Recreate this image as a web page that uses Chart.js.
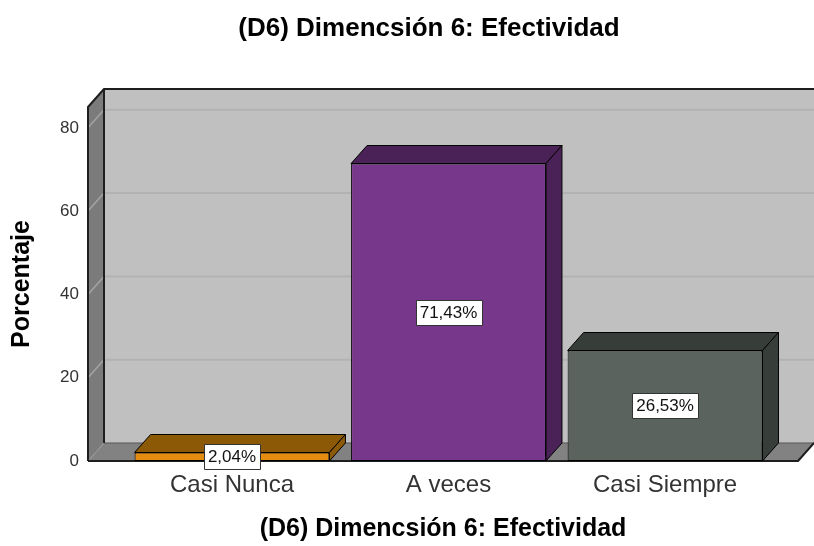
<!DOCTYPE html>
<html>
<head>
<meta charset="utf-8">
<script src="https://cdn.jsdelivr.net/npm/chart.js@4.4.0/dist/chart.umd.min.js"></script>
<style>
  html, body { margin: 0; padding: 0; background: #fff; }
</style>
</head>
<body>
<canvas id="myChart" width="814" height="546"></canvas>
<script>
const chartTitle = "(D6) Dimencsión 6: Efectividad";
const categories = ["Casi Nunca", "A veces", "Casi Siempre"];
const percentages = [2.04, 71.43, 26.53];
const valueLabels = ["2,04%", "71,43%", "26,53%"];
const yTicks = [0, 20, 40, 60, 80];
const frontColors = ["#e48c10", "#77388b", "#5b635e"];
const sideColors = ["#8c5906", "#4a2257", "#373e3a"];

const FONT = '"Liberation Sans", Arial, sans-serif';
// depth of the fake 3d box, in pixels
const DX = 16;
const DY = 18;

function poly(ctx, pts) {
  ctx.beginPath();
  ctx.moveTo(pts[0][0], pts[0][1]);
  for (let i = 1; i < pts.length; i++) ctx.lineTo(pts[i][0], pts[i][1]);
  ctx.closePath();
}

function line(ctx, pts) {
  ctx.beginPath();
  ctx.moveTo(pts[0][0], pts[0][1]);
  for (let i = 1; i < pts.length; i++) ctx.lineTo(pts[i][0], pts[i][1]);
  ctx.stroke();
}

// walls, floor and the gridlines drawn before the bars
const box3d = {
  id: "box3d",
  beforeDatasetsDraw(chart) {
    const { ctx, chartArea: a, scales } = chart;
    const y = scales.y;
    const w = chart.width;
    ctx.save();

    // back wall
    ctx.fillStyle = "#c0c0c0";
    ctx.fillRect(a.left + DX, a.top - DY, w - a.left - DX, a.bottom - a.top);
    ctx.strokeStyle = "#b2b2b2";
    ctx.lineWidth = 2;
    yTicks.forEach((v) => {
      if (v === 0) return;
      const py = y.getPixelForValue(v) - DY;
      line(ctx, [[a.left + DX, py], [w, py]]);
    });

    // left wall
    ctx.fillStyle = "#7b7b7b";
    poly(ctx, [[a.left, a.bottom], [a.left, a.top], [a.left + DX, a.top - DY], [a.left + DX, a.bottom - DY]]);
    ctx.fill();
    ctx.strokeStyle = "#a4a4a4";
    ctx.lineWidth = 1.5;
    yTicks.forEach((v) => {
      if (v === 0) return;
      const py = y.getPixelForValue(v);
      line(ctx, [[a.left, py], [a.left + DX, py - DY]]);
    });

    // floor
    ctx.fillStyle = "#828282";
    poly(ctx, [[a.left, a.bottom], [a.left + DX, a.bottom - DY], [a.right + DX, a.bottom - DY], [a.right, a.bottom]]);
    ctx.fill();
    ctx.strokeStyle = "#9a9a9a";
    ctx.lineWidth = 1;
    line(ctx, [[a.left, a.bottom], [a.left + DX, a.bottom - DY]]);
    ctx.strokeStyle = "#555";
    line(ctx, [[a.left + DX, a.bottom - DY], [w, a.bottom - DY]]);

    // edges
    ctx.strokeStyle = "#1e1e1e";
    ctx.lineWidth = 2;
    ctx.lineJoin = "round";
    line(ctx, [[a.left, a.bottom], [a.left, a.top], [a.left + DX, a.top - DY], [w, a.top - DY]]);
    line(ctx, [[a.left + DX, a.top - DY], [a.left + DX, a.bottom - DY]]);
    line(ctx, [[a.left, a.bottom], [a.right, a.bottom], [a.right + DX, a.bottom - DY]]);
    ctx.restore();
  },
  afterDatasetsDraw(chart) {
    const { ctx } = chart;
    const meta = chart.getDatasetMeta(0);
    ctx.save();
    ctx.lineWidth = 1;
    ctx.strokeStyle = "#000";
    ctx.lineJoin = "round";
    meta.data.forEach((bar, i) => {
      const { x, y, base, width } = bar.getProps(["x", "y", "base", "width"], true);
      const l = x - width / 2;
      const r = x + width / 2;
      ctx.fillStyle = sideColors[i];
      poly(ctx, [[l, y], [l + DX, y - DY], [r + DX, y - DY], [r, y]]);
      ctx.fill();
      ctx.stroke();
      poly(ctx, [[r, y], [r + DX, y - DY], [r + DX, base - DY], [r, base]]);
      ctx.fill();
      ctx.stroke();
    });

    // value labels in the middle of each front face
    ctx.font = "17px " + FONT;
    ctx.textAlign = "center";
    ctx.textBaseline = "middle";
    meta.data.forEach((bar, i) => {
      const { x, y, base } = bar.getProps(["x", "y", "base"], true);
      const cy = (y + base) / 2;
      const tw = ctx.measureText(valueLabels[i]).width;
      const bw = tw + 8;
      const bh = 25;
      ctx.fillStyle = "#fff";
      ctx.fillRect(Math.round(x - bw / 2) + 0.5, Math.round(cy - bh / 2) + 0.5, Math.round(bw), bh);
      ctx.strokeStyle = "#333";
      ctx.strokeRect(Math.round(x - bw / 2) + 0.5, Math.round(cy - bh / 2) + 0.5, Math.round(bw), bh);
      ctx.fillStyle = "#111";
      ctx.fillText(valueLabels[i], x, cy + 1);
    });
    ctx.restore();
  },
  afterDraw(chart) {
    const { ctx } = chart;
    ctx.save();
    ctx.font = "bold 26px " + FONT;
    ctx.fillStyle = "#000";
    ctx.textAlign = "center";
    ctx.textBaseline = "alphabetic";
    ctx.fillText(chartTitle, 429, 36);
    ctx.restore();
  },
};

const ctx = document.getElementById("myChart").getContext("2d");
const myChart = new Chart(ctx, {
  type: "bar",
  data: {
    datasets: [
      {
        data: percentages.map((v, i) => ({ x: i, y: v })),
        backgroundColor: frontColors,
        borderColor: "#000",
        borderWidth: 1,
        borderSkipped: false,
        categoryPercentage: 1,
        barPercentage: 0.9,
      },
    ],
  },
  options: {
    responsive: false,
    animation: false,
    devicePixelRatio: 1,
    layout: { padding: { top: 107, right: 16, bottom: 0, left: 0 } },
    plugins: {
      legend: { display: false },
      tooltip: { enabled: false },
    },
    scales: {
      x: {
        type: "linear",
        offset: false,
        min: -0.665,
        max: 2.614,
        grid: { display: false, drawTicks: false },
        border: { display: false },
        afterBuildTicks: (s) => {
          s.ticks = categories.map((c, i) => ({ value: i }));
        },
        afterFit: (s) => {
          s.height = 85;
        },
        ticks: {
          callback: (v) => categories[v],
          font: { family: FONT, size: 24 },
          color: "#333",
          padding: 10,
          maxRotation: 0,
        },
        title: {
          display: true,
          text: chartTitle,
          font: { family: FONT, size: 25, weight: "bold" },
          color: "#000",
          padding: { top: 0, bottom: 2 },
        },
      },
      y: {
        min: 0,
        max: 85,
        grid: { display: false, drawTicks: false },
        border: { display: false },
        afterBuildTicks: (s) => {
          s.ticks = yTicks.map((v) => ({ value: v }));
        },
        afterFit: (s) => {
          s.width = 88;
        },
        ticks: {
          font: { family: FONT, size: 17 },
          color: "#333",
          padding: 9,
        },
        title: {
          display: true,
          text: "Porcentaje",
          font: { family: FONT, size: 25, weight: "bold" },
          color: "#000",
          padding: { top: 7, bottom: 0 },
        },
      },
    },
  },
  plugins: [box3d],
});
</script>
</body>
</html>
